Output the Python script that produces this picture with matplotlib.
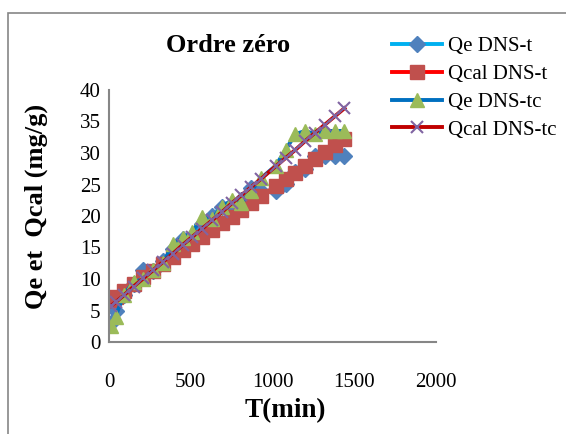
import matplotlib
matplotlib.use("Agg")
import matplotlib.pyplot as plt
from matplotlib.patches import Rectangle

plt.rcParams['font.family'] = ['Liberation Serif', 'DejaVu Serif']

# time (min)
t = [10, 40, 90, 150, 210, 270, 330, 390, 450, 510, 570, 630, 690, 750,
     810, 870, 930, 1020, 1080, 1140, 1200, 1260, 1320, 1380, 1440]

qe_t = [3.0, 5.0, 7.5, 9.2, 11.5, 11.3, 12.8, 14.8, 16.3, 16.5, 18.8, 20.0, 21.5,
        21.5, 22.5, 24.5, 24.0, 24.0, 25.0, 27.0, 27.5, 29.5, 29.5, 29.5, 29.5]
qcal_t = [6.7, 7.2, 8.1, 9.2, 10.3, 11.3, 12.4, 13.5, 14.6, 15.6, 16.7, 17.8, 18.9,
          19.9, 21.0, 22.1, 23.1, 24.8, 25.8, 26.9, 28.0, 29.1, 30.1, 31.2, 32.3]
qe_tc = [2.5, 4.0, 7.5, 9.5, 10.0, 11.5, 12.5, 15.5, 16.5, 17.5, 19.8, 19.5, 21.5,
         22.5, 22.0, 24.0, 26.0, 28.0, 30.5, 33.0, 33.5, 33.0, 33.5, 33.5, 33.5]
qcal_tc = [5.7, 6.3, 7.4, 8.8, 10.1, 11.4, 12.7, 14.0, 15.4, 16.7, 18.0, 19.3, 20.6,
           22.0, 23.3, 24.6, 25.9, 27.9, 29.2, 30.5, 31.9, 33.2, 34.5, 35.8, 37.1]

W, H = 566, 434
fig = plt.figure(figsize=(W / 100, H / 100), dpi=100)
ax = fig.add_axes([109 / W, 1 - 342 / H, (436 - 109) / W, (342 - 90) / H])

ax.plot(t, qe_t, color='#00B0F0', lw=2.8, marker='D', ms=8,
        mfc='#4F81BD', mec='#4F81BD', label='Qe DNS-t')
ax.plot(t, qcal_t, color='#FF0000', lw=2.8, marker='s', ms=10,
        mfc='#C0504D', mec='#C0504D', label='Qcal DNS-t')
ax.plot(t, qe_tc, color='#0070C0', lw=2.8, marker='^', ms=10,
        mfc='#9BBB59', mec='#9BBB59', label='Qe DNS-tc')
ax.plot(t, qcal_tc, color='#C00000', lw=2.8, marker='x', ms=8, mew=1.5,
        mec='#8064A2', label='Qcal DNS-tc')

ax.set_xlim(0, 2000)
ax.set_ylim(0, 40)
ax.set_xticks([0, 500, 1000, 1500, 2000])
ax.set_yticks(range(0, 41, 5))
ax.tick_params(length=0, labelsize=15)
ax.tick_params(axis='x', pad=22)
ax.tick_params(axis='y', pad=6)
for s in ['top', 'right']:
    ax.spines[s].set_visible(False)
for s in ['left', 'bottom']:
    ax.spines[s].set_color('#868686')
    ax.spines[s].set_linewidth(1.5)

fig.text(228 / W, 1 - 45 / H, 'Ordre zéro', fontsize=19, fontweight='bold',
         ha='center', va='center')
fig.text(285 / W, 1 - 411 / H, 'T(min)', fontsize=19.5, fontweight='bold',
         ha='center', va='center')
fig.text(36 / W, 1 - 206 / H, 'Qe et  Qcal (mg/g)', fontsize=19, fontweight='bold',
         ha='center', va='center', rotation=90)

fig.legend(loc='upper left', bbox_to_anchor=(382 / W, 1 - 26 / H), frameon=False,
           fontsize=15, borderpad=0, handlelength=2.4, handletextpad=0.25,
           labelspacing=0.4)

fig.patches.append(Rectangle((8 / W, -0.1), 1.2, 1 - 13 / H + 0.1,
                             transform=fig.transFigure, fill=False,
                             edgecolor='#868686', lw=1.2))

fig.savefig('out.png', dpi=100)
